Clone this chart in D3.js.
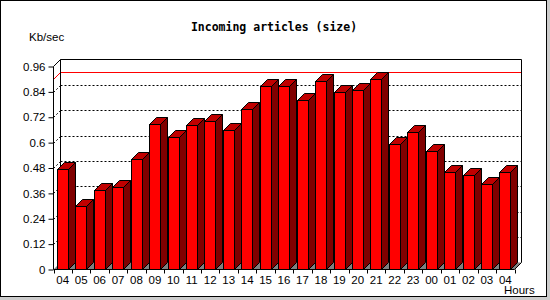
<!DOCTYPE html>
<html>
<head>
<meta charset="utf-8">
<script src="https://cdn.jsdelivr.net/npm/d3@7"></script>
<style>
  body { margin: 0; background: #cccccc; }
  svg { display: block; }
</style>
</head>
<body>
<div id="chart"></div>
<script>
var hours = ['04', '05', '06', '07', '08', '09', '10', '11', '12', '13', '14', '15', '16',
             '17', '18', '19', '20', '21', '22', '23', '00', '01', '02', '03', '04'];
var sizes = [0.474, 0.301, 0.375, 0.391, 0.523, 0.687, 0.626, 0.683, 0.702, 0.659, 0.758, 0.870, 0.867,
             0.801, 0.891, 0.839, 0.848, 0.900, 0.593, 0.651, 0.561, 0.460, 0.446, 0.403, 0.460];
var yTicks = [0, 0.12, 0.24, 0.36, 0.48, 0.6, 0.72, 0.84, 0.96];

var w = 550;
var h = 300;
var depth = 7;       // 3d offset
// note: "top" is taken by window.top
var pLeft = 53.5, pRight = 514.5, pBottom = 269.5, pTop = 66.5;

var svg = d3.select('#chart')
        .append('svg')
        .attr('width', w)
        .attr('height', h);

svg.append('rect')
        .attr('x', 0.5).attr('y', 0.5)
        .attr('width', 546).attr('height', 296)
        .attr('fill', 'white')
        .attr('stroke', 'black');

var x = d3.scaleBand()
        .domain(d3.range(hours.length))
        .range([pLeft, pRight])
        .paddingInner(0)
        .paddingOuter(0);

var y = d3.scaleLinear()
        .domain([0, 0.96])
        .range([pBottom, pTop]);

var bw = 11;
var bo = 3.4;

function py(v) {
    return Math.round(y(v)) + 0.5;
}

// floor
svg.append('polygon')
        .attr('points', [[pLeft, pBottom], [pLeft + depth, pBottom - depth], [pRight + depth, pBottom - depth], [pRight, pBottom]].join(' '))
        .attr('fill', '#808080');

// grid lines on back and left walls
yTicks.slice(1, -1).forEach(function (t) {
    var yy = py(t);
    svg.append('line')
            .attr('x1', pLeft + depth).attr('x2', pRight + depth)
            .attr('y1', yy - depth).attr('y2', yy - depth)
            .attr('stroke', 'black')
            .attr('stroke-dasharray', '2,2');
    svg.append('line')
            .attr('x1', pLeft).attr('x2', pLeft + depth)
            .attr('y1', yy).attr('y2', yy - depth)
            .attr('stroke', 'black')
            .attr('stroke-dasharray', '2,2');
});

// max line
var mx = py(d3.max(sizes));
svg.append('polyline')
        .attr('points', [[pLeft, mx], [pLeft + depth, mx - depth], [pRight + depth, mx - depth]].join(' '))
        .attr('fill', 'none')
        .attr('stroke', 'red');

// walls outline
svg.append('polyline')
        .attr('points', [[pLeft + depth, pBottom - depth], [pLeft + depth, pTop - depth], [pRight + depth, pTop - depth], [pRight + depth, pBottom - depth]].join(' '))
        .attr('fill', 'none')
        .attr('stroke', 'black');

// bars
var bars = svg.selectAll('g.bar')
        .data(sizes)
        .enter()
        .append('g')
        .attr('class', 'bar');

bars.append('polygon')
        .attr('points', function (d, i) {
            var x0 = Math.round(x(i) + bo + bw) + 0.5, yt = py(d);
            return [[x0, pBottom], [x0 + depth, pBottom - depth], [x0 + depth, yt - depth], [x0, yt]].join(' ');
        })
        .attr('fill', '#800000')
        .attr('stroke', 'black');

bars.append('polygon')
        .attr('points', function (d, i) {
            var x0 = Math.round(x(i) + bo) + 0.5, yt = py(d);
            return [[x0, yt], [x0 + depth, yt - depth], [x0 + bw + depth, yt - depth], [x0 + bw, yt]].join(' ');
        })
        .attr('fill', '#c00000')
        .attr('stroke', 'black');

bars.append('rect')
        .attr('x', function (d, i) { return Math.round(x(i) + bo) + 0.5; })
        .attr('y', function (d) { return py(d); })
        .attr('width', bw)
        .attr('height', function (d) { return pBottom - py(d); })
        .attr('fill', '#ff0000')
        .attr('stroke', 'black');

// front axes
svg.append('polyline')
        .attr('points', [[pLeft + depth, pTop - depth], [pLeft, pTop], [pLeft, pBottom], [pRight, pBottom], [pRight + depth, pBottom - depth]].join(' '))
        .attr('fill', 'none')
        .attr('stroke', 'black');

var yAxis = d3.axisLeft(y)
        .tickValues(yTicks)
        .tickSize(5)
        .tickPadding(3)
        .tickFormat(function (d) { return d === 0 ? '0' : String(d); });

svg.append('g')
        .attr('transform', 'translate(' + pLeft + ',0)')
        .call(yAxis)
        .call(function (g) { g.select('.domain').remove(); })
        .selectAll('text')
        .attr('font-family', 'Liberation Sans, Arial, sans-serif')
        .attr('font-size', '11.5px')
        .attr('fill', 'black');

var xAxis = d3.axisBottom(x)
        .tickSize(0)
        .tickPadding(6)
        .tickFormat(function (d) { return hours[d]; });

svg.append('g')
        .attr('transform', 'translate(0,' + pBottom + ')')
        .call(xAxis)
        .call(function (g) { g.select('.domain').remove(); })
        .selectAll('text')
        .attr('font-family', 'Liberation Sans, Arial, sans-serif')
        .attr('font-size', '11.5px')
        .attr('fill', 'black');

// x tick marks at band edges
svg.selectAll('line.xt')
        .data(d3.range(hours.length + 1))
        .enter()
        .append('line')
        .attr('class', 'xt')
        .attr('x1', function (d) { return Math.round(pLeft + d * x.bandwidth()) + 0.5; })
        .attr('x2', function (d) { return Math.round(pLeft + d * x.bandwidth()) + 0.5; })
        .attr('y1', pBottom)
        .attr('y2', pBottom + 4)
        .attr('stroke', 'black');

svg.append('text')
        .attr('x', 274)
        .attr('y', 31)
        .attr('text-anchor', 'middle')
        .attr('font-family', 'DejaVu Sans Mono, monospace')
        .attr('font-weight', 'bold')
        .attr('font-size', '11.5px')
        .text('Incoming articles (size)');

svg.append('text')
        .attr('x', 29)
        .attr('y', 41)
        .attr('font-family', 'Liberation Sans, Arial, sans-serif')
        .attr('font-size', '11.5px')
        .text('Kb/sec');

svg.append('text')
        .attr('x', 504)
        .attr('y', 294)
        .attr('font-family', 'Liberation Sans, Arial, sans-serif')
        .attr('font-size', '11.5px')
        .text('Hours');
</script>
</body>
</html>
